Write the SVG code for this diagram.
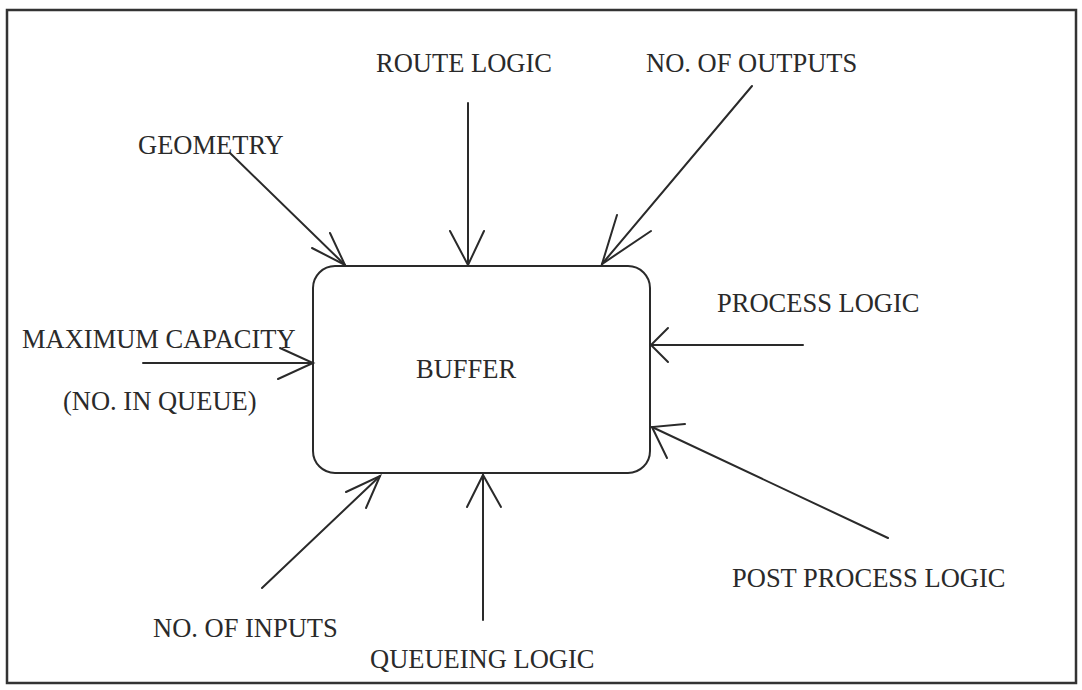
<svg xmlns="http://www.w3.org/2000/svg" width="1082" height="690" viewBox="0 0 1082 690">
  <style>
    .frame { fill: none; stroke: #333; stroke-width: 2.5; }
    .box { fill: #fff; stroke: #2a2a2a; stroke-width: 2; }
    .conn line, .conn polyline { fill: none; stroke: #2a2a2a; stroke-width: 2; stroke-linecap: round; stroke-linejoin: miter; }
    .lbl { font-family: "Liberation Serif", "Times New Roman", serif; font-size: 26.5px; fill: #2a2a2a; }
  </style>
  <rect width="1082" height="690" fill="#fff"/>
  <rect class="frame" x="7" y="10" width="1069" height="673"/>

  <!-- central block -->
  <g id="buffer">
    <rect class="box" x="313" y="266" width="337" height="207" rx="22" ry="22"/>
    <text class="lbl" x="416" y="378">BUFFER</text>
  </g>

  <!-- input labels around the block -->
  <g id="geometry"><text class="lbl" x="138" y="154">GEOMETRY</text></g>
  <g id="route-logic"><text class="lbl" x="376" y="72">ROUTE LOGIC</text></g>
  <g id="no-of-outputs"><text class="lbl" x="646" y="72">NO. OF OUTPUTS</text></g>
  <g id="process-logic"><text class="lbl" x="717" y="312">PROCESS LOGIC</text></g>
  <g id="post-process-logic"><text class="lbl" x="732" y="587">POST PROCESS LOGIC</text></g>
  <g id="maximum-capacity">
    <text class="lbl" x="22" y="348">MAXIMUM CAPACITY</text>
    <text class="lbl" x="63" y="410">(NO. IN QUEUE)</text>
  </g>
  <g id="no-of-inputs"><text class="lbl" x="153" y="637">NO. OF INPUTS</text></g>
  <g id="queueing-logic"><text class="lbl" x="370" y="668">QUEUEING LOGIC</text></g>

  <!-- connectors: shaft plus open arrowhead at the block edge -->
  <g id="connectors" class="conn">
    <g id="c-geometry">
      <line x1="230" y1="153" x2="345" y2="265"/>
      <polyline points="312,248 345,265 330,233"/>
    </g>
    <g id="c-route">
      <line x1="468" y1="103" x2="468" y2="265"/>
      <polyline points="450,231 468,265 484,231"/>
    </g>
    <g id="c-outputs">
      <line x1="752" y1="86" x2="602" y2="264"/>
      <polyline points="617,215 602,264 651,231"/>
    </g>
    <g id="c-process">
      <line x1="803" y1="345" x2="651" y2="345"/>
      <polyline points="668,328 651,345 668,362"/>
    </g>
    <g id="c-post-process">
      <line x1="888" y1="538" x2="652" y2="427"/>
      <polyline points="685,424 652,427 667,458"/>
    </g>
    <g id="c-capacity">
      <line x1="143" y1="363" x2="313" y2="363"/>
      <polyline points="280,348 313,363 278,379"/>
    </g>
    <g id="c-inputs">
      <line x1="262" y1="588" x2="380" y2="476"/>
      <polyline points="346,492 380,476 366,508"/>
    </g>
    <g id="c-queueing">
      <line x1="483" y1="620" x2="483" y2="475"/>
      <polyline points="467,507 483,475 501,507"/>
    </g>
  </g>
</svg>
